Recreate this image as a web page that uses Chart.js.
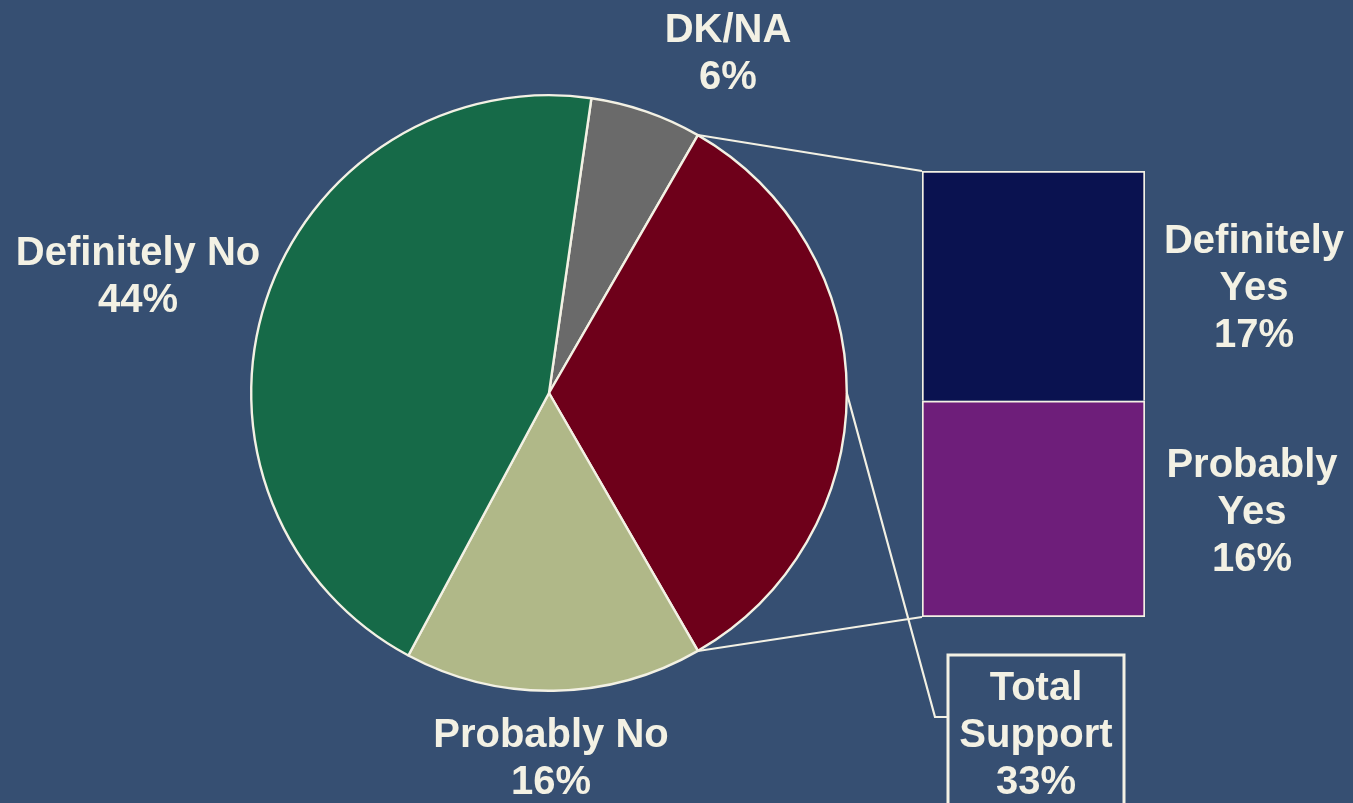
<!DOCTYPE html>
<html>
<head>
<meta charset="utf-8">
<title>Support - pie of bar</title>
<script src="https://cdn.jsdelivr.net/npm/chart.js@4.4.1/dist/chart.umd.min.js"></script>
<style>
    html, body { margin: 0; padding: 0; background: #364F72; overflow: hidden; }
    .stage { position: relative; width: 1353px; height: 803px; }
    .stage canvas { position: absolute; left: 0; top: 0; }
</style>
</head>
<body>
<div class="stage">
    <canvas id="pieChart" width="1353" height="803"></canvas>
    <canvas id="barChart" width="1353" height="803"></canvas>
</div>
<script>
// ---- data ----
const pieLabels = ['DK/NA', 'Total Support', 'Probably No', 'Definitely No'];
const pieValues = [6, 33, 16, 44];
const barLabels = ['Probably Yes', 'Definitely Yes'];   // bottom -> top
const barValues = [16, 17];
const totalLabel = 'Total Support';

// ---- styles ----
const CREAM = '#F3F1E4';
const pieColors = ['#6A6A6A', '#6E001A', '#B0B888', '#166A48'];
const barColors = ['#6E1E7A', '#0A1250'];
const FONT = 'bold 40px "Liberation Sans", Arial, sans-serif';
const LINE_H = 47;

// label anchors (centre x, baseline of first line)
const pieLabelPos = [
    { x: 728, y: 42,  lines: ['DK/NA'] },
    null, // total support goes in the callout box
    { x: 551, y: 747, lines: ['Probably No'] },
    { x: 138, y: 265, lines: ['Definitely No'] }
];
const barLabelPos = [
    { x: 1252, y: 477, lines: ['Probably', 'Yes'] },
    { x: 1254, y: 253, lines: ['Definitely', 'Yes'] }
];
const boxRect = { x: 948, y: 655, w: 176, h: 180 };
const calloutElbow = { x: 935, y: 717 };

function drawLines(ctx, x, y, lines) {
    ctx.save();
    ctx.font = FONT;
    ctx.fillStyle = CREAM;
    ctx.textAlign = 'center';
    ctx.textBaseline = 'alphabetic';
    lines.forEach((t, i) => ctx.fillText(t, x, y + i * LINE_H));
    ctx.restore();
}

// rotate so the Total Support slice is centred on the right-hand side
const pieSum = pieValues.reduce((a, b) => a + b, 0);
const pieRotation = 90 - (pieValues[0] + pieValues[1] / 2) / pieSum * 360;

const pieLabelPlugin = {
    id: 'pieLabels',
    afterDraw(chart) {
        const ctx = chart.ctx;
        pieValues.forEach((v, i) => {
            const p = pieLabelPos[i];
            if (!p) return;
            drawLines(ctx, p.x, p.y, p.lines.concat([v + '%']));
        });
    }
};

const pieChart = new Chart(document.getElementById('pieChart'), {
    type: 'pie',
    data: {
        labels: pieLabels,
        datasets: [{
            data: pieValues,
            backgroundColor: pieColors,
            borderColor: CREAM,
            borderWidth: 2.4
        }]
    },
    options: {
        responsive: false,
        animation: false,
        rotation: pieRotation,
        layout: { padding: { left: 250, right: 505, top: 94, bottom: 111 } },
        plugins: { legend: { display: false }, tooltip: { enabled: false } }
    },
    plugins: [pieLabelPlugin]
});

// connectors, bar labels and the callout box
const barExtrasPlugin = {
    id: 'barExtras',
    afterDraw(chart) {
        const ctx = chart.ctx;
        const arc = pieChart.getDatasetMeta(0).data[1];
        const r = arc.outerRadius;
        const pt = a => ({ x: arc.x + r * Math.cos(a), y: arc.y + r * Math.sin(a) });

        const topBar = chart.getDatasetMeta(1).data[0];
        const botBar = chart.getDatasetMeta(0).data[0];
        const left = topBar.x - topBar.width / 2;

        ctx.save();
        ctx.strokeStyle = CREAM;
        ctx.lineWidth = 2;
        const s = pt(arc.startAngle), e = pt(arc.endAngle);
        ctx.beginPath();
        ctx.moveTo(s.x, s.y); ctx.lineTo(left, topBar.y);
        ctx.moveTo(e.x, e.y); ctx.lineTo(left, botBar.base);
        ctx.stroke();

        // callout from the middle of the slice to the box
        const m = pt((arc.startAngle + arc.endAngle) / 2);
        ctx.lineWidth = 2.2;
        ctx.beginPath();
        ctx.moveTo(m.x, m.y);
        ctx.lineTo(calloutElbow.x, calloutElbow.y);
        ctx.lineTo(boxRect.x, calloutElbow.y);
        ctx.stroke();

        ctx.lineWidth = 3;
        ctx.strokeRect(boxRect.x, boxRect.y, boxRect.w, boxRect.h);
        ctx.restore();

        drawLines(ctx, boxRect.x + boxRect.w / 2, 700, ['Total', 'Support', pieValues[1] + '%']);

        barValues.forEach((v, i) => {
            const p = barLabelPos[i];
            drawLines(ctx, p.x, p.y, p.lines.concat([v + '%']));
        });
    }
};

new Chart(document.getElementById('barChart'), {
    type: 'bar',
    data: {
        labels: [totalLabel],
        datasets: barLabels.map((label, i) => ({
            label: label,
            data: [barValues[i]],
            backgroundColor: barColors[i],
            borderColor: CREAM,
            borderWidth: i === 0 ? 2 : { top: 2, left: 2, right: 2, bottom: 0 },
            borderSkipped: false,
            barPercentage: 1,
            categoryPercentage: 1
        }))
    },
    options: {
        responsive: false,
        animation: false,
        layout: { padding: { left: 922, right: 208, top: 171, bottom: 186 } },
        scales: {
            x: { stacked: true, display: false },
            y: { stacked: true, display: false, min: 0, max: barValues.reduce((a, b) => a + b, 0) }
        },
        plugins: { legend: { display: false }, tooltip: { enabled: false } }
    },
    plugins: [barExtrasPlugin]
});
</script>
</body>
</html>
